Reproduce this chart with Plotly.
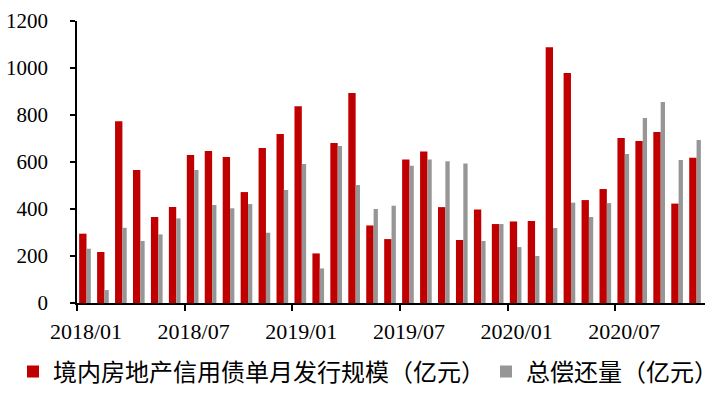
import plotly.graph_objects as go

months = [f"{y}/{m:02d}" for y in (2018, 2019, 2020) for m in range(1, 13)][:35]

issuance = [295, 217, 773, 566, 366, 408, 630, 647, 621, 472, 660, 719,
            837, 211, 681, 894, 330, 272, 611, 645, 408, 268, 398, 336,
            347, 349, 1088, 979, 438, 485, 702, 689, 728, 423, 618]
repayment = [231, 55, 320, 264, 292, 360, 566, 417, 403, 421, 299, 481,
             591, 147, 668, 502, 400, 414, 584, 611, 603, 594, 264, 336,
             238, 200, 319, 427, 366, 425, 634, 787, 855, 609, 694]

name_issue = "境内房地产信用债单月发行规模（亿元）"
name_repay = "总偿还量（亿元）"

fig = go.Figure()
fig.add_trace(go.Bar(x=months, y=issuance, name=name_issue,
                     marker=dict(color="#C00000", line_width=0),
                     width=0.41, offset=-0.38, legend="legend"))
fig.add_trace(go.Bar(x=months, y=repayment, name=name_repay,
                     marker=dict(color="#969696", line_width=0),
                     width=0.24, offset=0.03, legend="legend2"))

legend_font = dict(family="Noto Sans CJK SC", size=24, color="#000000")

fig.update_layout(
    width=722, height=404,
    margin=dict(l=77, r=17, t=21, b=101, autoexpand=False),
    plot_bgcolor="white", paper_bgcolor="white",
    barmode="overlay",
    showlegend=True,
    legend=dict(orientation="h", xref="container", yref="container",
                x=13 / 722, xanchor="left", y=0.135, yanchor="top",
                font=legend_font, itemwidth=30, itemclick=False),
    legend2=dict(orientation="h", xref="container", yref="container",
                 x=486 / 722, xanchor="left", y=0.135, yanchor="top",
                 font=legend_font, itemwidth=30, itemclick=False),
    xaxis=dict(type="category", tickmode="linear", tick0=0, dtick=6,
               tickson="boundaries", range=[-0.5, 34.5], automargin=False,
               showline=True, linecolor="black", linewidth=2,
               ticks="outside", ticklen=6, tickwidth=1.5, tickcolor="black",
               showgrid=False, zeroline=False,
               tickfont=dict(family="Liberation Serif", size=22, color="black"),
               tickangle=0, ticklabelstandoff=8),
    yaxis=dict(range=[0, 1200], tickvals=[0, 200, 400, 600, 800, 1000, 1200],
               automargin=False,
               showline=True, linecolor="black", linewidth=1.5,
               ticks="outside", ticklen=5, tickwidth=1.5, tickcolor="black",
               showgrid=False, zeroline=False,
               tickfont=dict(family="Liberation Serif", size=21, color="black"),
               ticklabelstandoff=18),
)

fig.write_html("out.html", config={"displayModeBar": False},
               post_script="document.body.style.margin='0';")
